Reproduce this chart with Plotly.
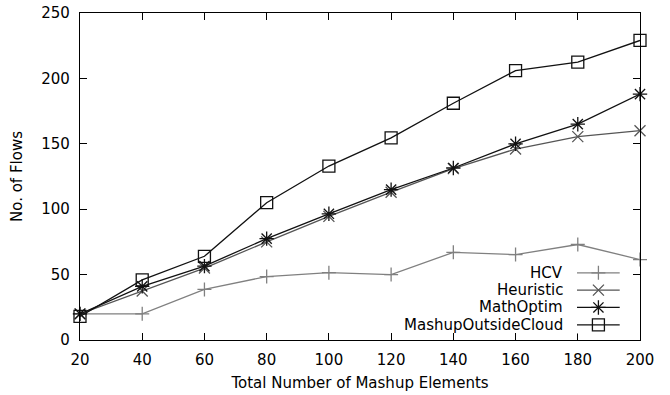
import plotly.graph_objects as go

x_vals = [20, 40, 60, 80, 100, 120, 140, 160, 180, 200]
hcv = [20, 20, 38.7, 48.5, 51.5, 50, 67, 65.3, 73, 61.5]
heuristic = [20, 37.5, 55, 75, 94.5, 113, 131, 146, 155.5, 160]
mathoptim = [20, 41, 56.5, 77.5, 96.5, 115, 131.5, 150, 165, 188]
mashup = [18, 46, 64, 105, 133, 154.5, 181, 206, 212.5, 229]
y_ticks = [0, 50, 100, 150, 200, 250]

series = [
    ("HCV", hcv, "#808080", "cross-thin-open", 10),
    ("Heuristic", heuristic, "#555555", "x-thin-open", 11),
    ("MathOptim", mathoptim, "#111111", "asterisk-open", 12),
    ("MashupOutsideCloud", mashup, "#111111", "square-open", 12),
]

FONT = "DejaVu Sans"
FS = 15
fig = go.Figure()
for name, vals, col, sym, sz in series:
    fig.add_trace(go.Scatter(
        x=x_vals, y=vals, mode="lines+markers", name=name,
        line=dict(color=col, width=1.3),
        marker=dict(symbol=sym, size=sz, color=col, line=dict(color=col, width=1.3)),
        showlegend=False, cliponaxis=False,
    ))

L, R, T, B = 80, 30, 13, 55
rows = [3, 2, 1, 0]
y2_lo, y2_hi = -0.5, 3.5
y2_dom = [0.020, 0.232]
for (name, vals, col, sym, sz), r in zip(series, rows):
    fig.add_trace(go.Scatter(
        x=[0.0, 0.5, 1.0], y=[r, r, r], xaxis="x2", yaxis="y2",
        mode="lines", line=dict(color=col, width=1.3), showlegend=False,
        hoverinfo="skip", cliponaxis=False))
    fig.add_trace(go.Scatter(
        x=[0.5], y=[r], xaxis="x2", yaxis="y2", mode="markers",
        marker=dict(symbol=sym, size=sz, color=col, line=dict(color=col, width=1.3)),
        showlegend=False, hoverinfo="skip", cliponaxis=False))
    py = y2_dom[0] + (r - y2_lo) / (y2_hi - y2_lo) * (y2_dom[1] - y2_dom[0])
    fig.add_annotation(x=0.866, y=py, xref="paper", yref="paper", text=name,
                       showarrow=False, xanchor="right", yanchor="middle",
                       font=dict(family=FONT, size=FS, color="black"))

axis_common = dict(
    showline=True, linecolor="black", linewidth=1.3, mirror="allticks",
    ticks="inside", ticklen=7, tickcolor="black", tickwidth=1.2,
    showgrid=False, zeroline=False, automargin=False, ticklabelstandoff=6,
    tickfont=dict(family=FONT, size=FS, color="black"),
)

fig.update_layout(
    width=670, height=395,
    margin=dict(l=L, r=R, t=T, b=B),
    paper_bgcolor="white", plot_bgcolor="white",
    xaxis=dict(range=[20, 200], tickvals=x_vals, **axis_common,
               title=dict(text="Total Number of Mashup Elements", standoff=9,
                          font=dict(family=FONT, size=FS, color="black"))),
    yaxis=dict(range=[0, 250], tickvals=y_ticks, **axis_common,
               title=dict(text="No. of Flows", standoff=14,
                          font=dict(family=FONT, size=FS, color="black"))),
    xaxis2=dict(domain=[0.8875, 0.964], range=[0, 1], visible=False, anchor="y2"),
    yaxis2=dict(domain=y2_dom, range=[y2_lo, y2_hi], visible=False, anchor="x2"),
)

fig.write_html("out.html", config={"displayModeBar": False},
               post_script="document.body.style.margin='0';")
